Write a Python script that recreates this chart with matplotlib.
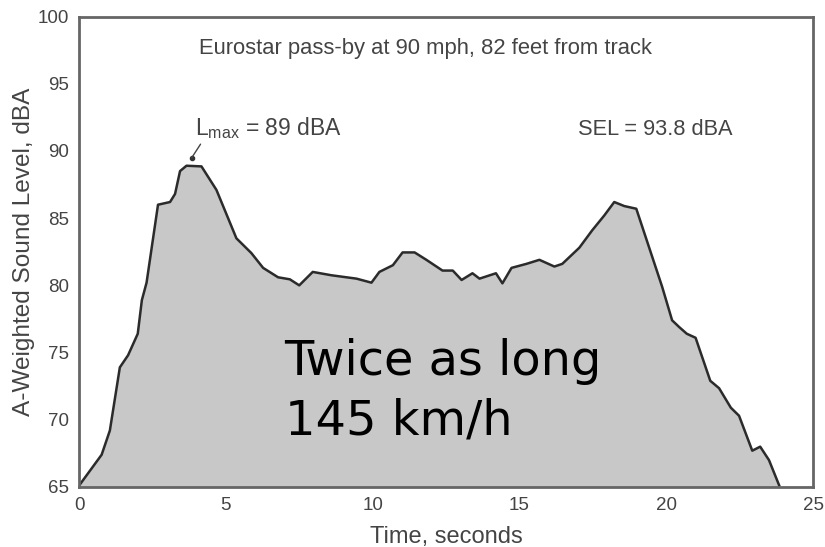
import numpy as np
import matplotlib
matplotlib.use("Agg")
import matplotlib.pyplot as plt

plt.rcParams['font.family'] = ['Liberation Sans', 'DejaVu Sans']
plt.rcParams['mathtext.default'] = 'regular'

# pass-by time history (seconds, dBA)
time_s = [0.0, 0.77, 1.05, 1.39, 1.67, 2.0, 2.14, 2.3, 2.69, 3.1, 3.27, 3.44,
          3.66, 4.17, 4.68, 5.36, 5.87, 6.27, 6.78, 7.18, 7.5, 7.96, 8.6,
          9.45, 9.96, 10.23, 10.69, 11.02, 11.43, 11.83, 12.38, 12.73, 13.03,
          13.4, 13.64, 14.2, 14.42, 14.73, 15.24, 15.68, 16.19, 16.46, 17.04,
          17.48, 17.89, 18.23, 18.57, 18.98, 19.42, 19.86, 20.2, 20.44, 20.7,
          21.0, 21.5, 21.8, 22.2, 22.48, 22.93, 23.2, 23.5, 23.85]
level_dba = [65.1, 67.4, 69.2, 73.9, 74.8, 76.4, 78.9, 80.2, 86.0, 86.2, 86.8,
             88.5, 88.9, 88.85, 87.1, 83.5, 82.4, 81.3, 80.6, 80.45, 80.0,
             81.0, 80.75, 80.5, 80.2, 81.0, 81.5, 82.45, 82.45, 81.9, 81.1,
             81.1, 80.4, 80.9, 80.5, 80.9, 80.15, 81.3, 81.6, 81.9, 81.4,
             81.6, 82.8, 84.1, 85.2, 86.2, 85.9, 85.7, 82.8, 79.9, 77.4,
             76.9, 76.4, 76.1, 72.9, 72.35, 70.9, 70.3, 67.7, 68.0, 67.0, 65.1]

xticks = [0, 5, 10, 15, 20, 25]
yticks = [65, 70, 75, 80, 85, 90, 95, 100]

fig = plt.figure(figsize=(8.25, 5.47), dpi=100)
ax = fig.add_axes([0.0958, 0.1097, 0.8897, 0.8601])

ax.fill_between(time_s, level_dba, 65, color='#c8c8c8', lw=0)
ax.plot(time_s, level_dba, color='#2b2b2b', lw=1.8, solid_joinstyle='round')

ax.set_xlim(0, 25)
ax.set_ylim(65, 100)
ax.set_xticks(xticks)
ax.set_yticks(yticks)
ax.tick_params(length=0, pad=7, labelsize=13.5, labelcolor='#444444')
for s in ax.spines.values():
    s.set_color('#666666')
    s.set_linewidth(2)

ax.set_xlabel('Time, seconds', fontsize=17, color='#444444', labelpad=9)
ax.set_ylabel('A-Weighted Sound Level, dBA', fontsize=17.6, color='#444444', labelpad=2)

ax.text(4.1, 97.2, 'Eurostar pass-by at 90 mph, 82 feet from track',
        fontsize=15.8, color='#444444', va='baseline')
ax.annotate(r'L$_{max}$ = 89 dBA', xy=(3.84, 89.5), xytext=(3.95, 91.15),
            fontsize=16.5, color='#444444', va='baseline',
            arrowprops=dict(arrowstyle='-', color='#444444', lw=1,
                            shrinkA=0, shrinkB=0, relpos=(0.05, 0)))
ax.plot([3.84], [89.5], 'o', color='#333333', ms=3)
ax.text(17.0, 91.15, 'SEL = 93.8 dBA', fontsize=15.7, color='#444444', va='baseline')

ax.text(7.0, 68.9, 'Twice as long\n145 km/h', fontsize=34.5, color='black',
        va='baseline', family='DejaVu Sans', linespacing=1.33)

fig.savefig('out.png', dpi=100)
